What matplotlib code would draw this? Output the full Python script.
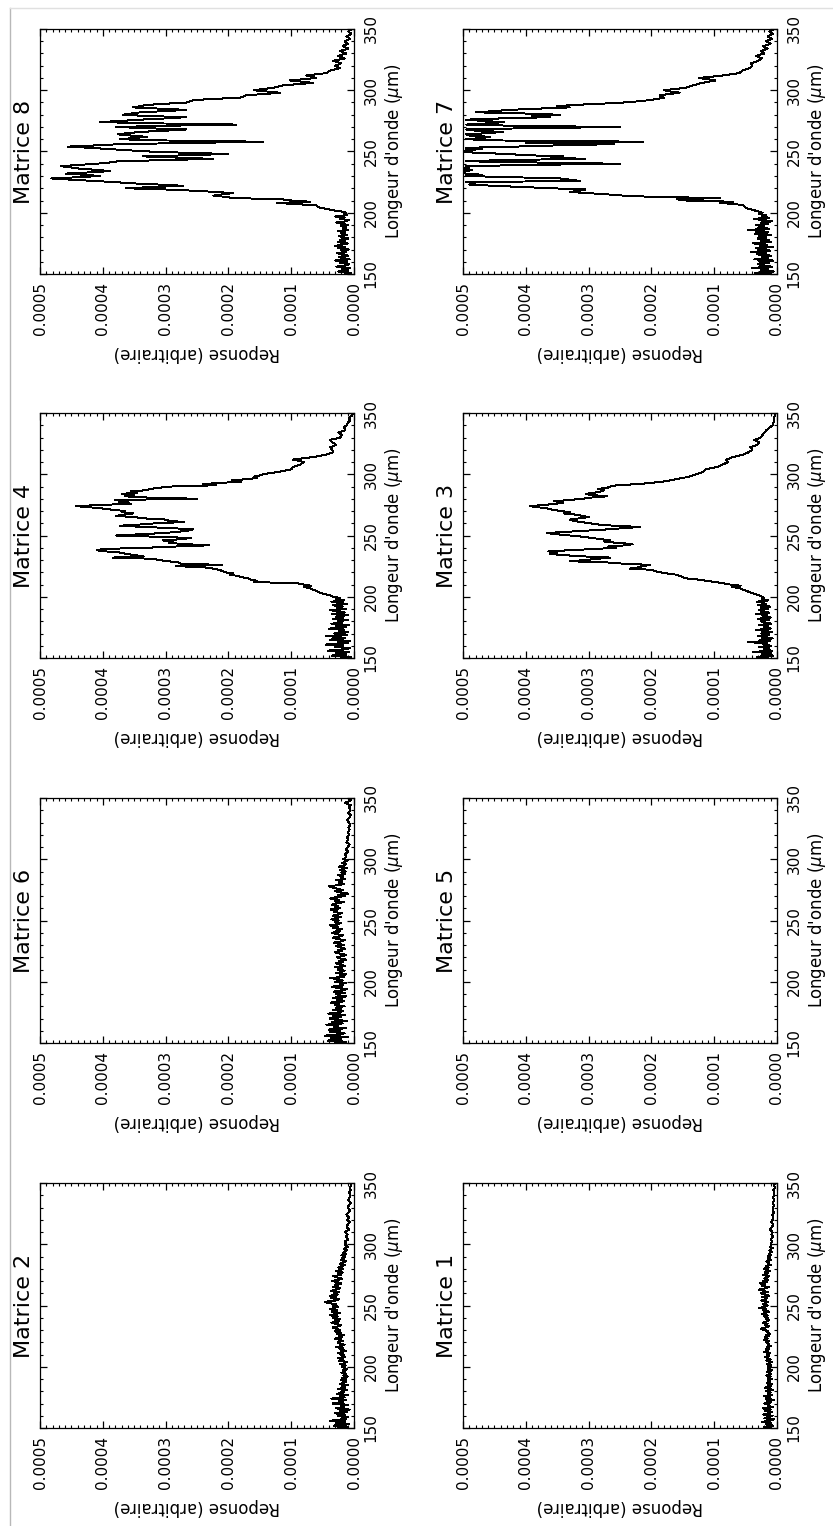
import matplotlib
matplotlib.use('Agg')

import matplotlib.pyplot as plt
from matplotlib.lines import Line2D
import numpy as np

# wavelength grid (microns), shared by all the matrices
wl = [
    150, 151, 152, 153, 154, 155, 156, 157, 158, 159,
    160, 161, 162, 163, 164, 165, 166, 167, 168, 169,
    170, 171, 172, 173, 174, 175, 176, 177, 178, 179,
    180, 181, 182, 183, 184, 185, 186, 187, 188, 189,
    190, 191, 192, 193, 194, 195, 196, 197, 198, 199,
    200, 201, 202, 203, 204, 205, 206, 207, 208, 209,
    210, 211, 212, 213, 214, 215, 216, 217, 218, 219,
    220, 221, 222, 223, 224, 225, 226, 227, 228, 229,
    230, 231, 232, 233, 234, 235, 236, 237, 238, 239,
    240, 241, 242, 243, 244, 245, 246, 247, 248, 249,
    250, 251, 252, 253, 254, 255, 256, 257, 258, 259,
    260, 261, 262, 263, 264, 265, 266, 267, 268, 269,
    270, 271, 272, 273, 274, 275, 276, 277, 278, 279,
    280, 281, 282, 283, 284, 285, 286, 287, 288, 289,
    290, 291, 292, 293, 294, 295, 296, 297, 298, 299,
    300,
    302, 304, 306, 308, 310, 312, 314, 316, 318, 320,
    322, 324, 326, 328, 330, 332, 334, 336, 338, 340,
    342, 344, 346, 348, 350,
]

# responses, in units of 1e-5
m1 = [
    1.2, 2.1, 0.6, 1.8, 0.9, 2.4, 1.1, 0.5, 2.0, 1.3,
    0.7, 2.2, 1.4, 0.8, 1.9, 1.0, 2.3, 0.6, 1.5, 1.2,
    2.0, 0.9, 1.6, 0.5, 1.8, 1.1, 2.1, 0.8, 1.4, 1.0,
    1.7, 0.7, 1.3, 1.9, 0.9, 1.5, 0.8, 1.6, 1.1, 1.4,
    0.8, 1.5, 1.0, 1.7, 0.9, 1.3, 1.6, 0.8, 1.4, 1.1,
    1.5, 0.9, 1.6, 1.2, 0.8, 1.7, 1.0, 1.4, 1.9, 1.2,
    1.6, 1.1, 2.0, 1.4, 1.8, 1.2, 1.6, 1.0, 1.5, 1.3,
    1.8, 1.2, 2.1, 1.5, 1.9, 1.3, 1.7, 1.1, 1.6, 1.4,
    2.0, 2.6, 1.8, 1.3, 1.9, 1.5, 2.2, 1.6, 1.2, 1.8,
    1.4, 2.0, 1.5, 2.4, 1.8, 1.3, 2.2, 1.7, 2.8, 2.0,
    1.5, 2.3, 1.8, 1.4, 2.5, 2.0, 1.6, 2.4, 1.2, 1.9,
    2.6, 1.5, 2.1, 2.9, 1.8, 1.3, 2.4, 1.9, 2.7, 1.6,
    2.2, 1.4, 2.0, 1.7, 1.2, 2.3, 1.5, 1.9, 1.1, 1.6,
    2.1, 1.3, 1.8, 1.0, 1.5, 1.2, 1.7, 1.0, 1.4, 1.1,
    1.5, 0.9, 1.3, 1.1, 0.8, 1.2, 1.0, 0.7, 1.1, 0.9,
    1.0,
    0.8, 1.0, 0.6, 0.9, 0.7, 1.1, 0.8, 0.6, 0.9, 0.7,
    0.6, 0.8, 0.5, 0.7, 0.6, 0.5, 0.7, 0.4, 0.6, 0.5,
    0.4, 0.6, 0.3, 0.5, 0.3,
]

m2 = [
    2.5, 1.0, 3.2, 0.8, 2.8, 1.5, 3.8, 1.2, 2.0, 0.9,
    2.6, 1.4, 3.0, 1.1, 2.3, 0.7, 2.9, 1.6, 2.1, 1.0,
    3.4, 1.8, 2.4, 1.2, 3.6, 1.5, 2.2, 1.0, 2.7, 1.6,
    2.0, 1.1, 2.5, 1.4, 1.9, 1.0, 2.3, 1.5, 1.2, 2.1,
    1.3, 1.9, 1.0, 1.7, 1.2, 2.0, 1.4, 1.8, 1.1, 1.6,
    1.9, 1.3, 2.2, 1.5, 1.1, 2.4, 1.7, 2.6, 1.4, 2.0,
    1.6, 2.5, 1.9, 1.3, 2.2, 1.7, 2.8, 2.0, 1.5, 2.3,
    2.6, 1.8, 2.2, 3.0, 1.9, 2.4, 1.6, 2.7, 2.1, 3.1,
    2.3, 2.8, 3.4, 2.5, 2.0, 2.9, 3.6, 2.4, 3.0, 2.2,
    3.3, 2.6, 3.8, 2.9, 2.3, 3.5, 2.7, 3.9, 3.1, 2.5,
    3.4, 2.8, 4.1, 4.6, 3.0, 2.4, 3.6, 2.9, 3.8, 2.6,
    3.2, 2.3, 3.7, 2.8, 2.2, 3.4, 2.6, 3.1, 2.0, 2.7,
    3.5, 2.4, 1.9, 2.8, 3.3, 2.1, 2.6, 1.8, 2.9, 2.2,
    1.7, 2.5, 2.0, 1.5, 2.3, 1.8, 1.3, 2.1, 1.6, 1.9,
    1.4, 2.0, 1.2, 1.7, 1.5, 1.1, 1.6, 1.3, 1.0, 1.4,
    1.2,
    1.5, 0.9, 1.3, 1.0, 1.4, 0.8, 1.2, 1.0, 0.7, 1.1,
    0.8, 1.2, 0.9, 0.6, 1.0, 0.8, 0.5, 0.9, 0.7, 0.6,
    0.8, 0.5, 0.7, 0.4, 0.6,
]

m3 = [
    1.5, 3.2, 0.6, 2.4, 1.0, 3.8, 0.8, 2.0, 1.3, 2.9,
    0.9, 2.2, 1.6, 4.6, 1.1, 2.7, 0.7, 1.9, 3.0, 1.2,
    2.5, 0.8, 1.7, 3.3, 1.0, 2.1, 1.4, 2.8, 0.9, 1.8,
    2.6, 1.3, 3.1, 1.0, 2.3, 1.6, 3.4, 1.2, 2.0, 2.9,
    1.5, 2.5, 1.1, 3.0, 1.8, 2.2, 3.2, 1.4, 2.4, 2.0,
    2.3, 2.8, 3.4, 4.0, 4.5, 4.9, 5.5, 6.0, 7.1, 5.8,
    7.5, 8.5, 9.8, 11.0, 12.5, 14.5, 15.0, 15.5, 16.0, 17.5,
    18.7, 19.5, 20.0, 23.4, 22.0, 21.5, 20.2, 24.5, 27.0, 33.0,
    30.5, 28.5, 26.6, 31.0, 34.0, 36.2, 35.0, 36.4, 33.0, 29.0,
    25.6, 27.0, 24.0, 23.0, 25.5, 27.5, 26.6, 28.0, 29.5, 30.9,
    33.0, 35.0, 36.7, 33.5, 30.3, 27.0, 24.5, 21.8, 26.0, 28.5,
    29.8, 31.0, 32.5, 33.0, 31.5, 30.0, 30.9, 32.0, 34.0, 33.0,
    34.5, 35.7, 36.5, 38.0, 39.4, 37.0, 35.0, 34.0, 35.5, 33.0,
    31.0, 29.5, 27.0, 29.5, 30.5, 29.0, 28.0, 27.5, 28.5, 27.0,
    26.5, 25.6, 22.0, 20.0, 18.1, 17.0, 16.0, 15.0, 14.0, 13.5,
    12.8,
    11.8, 11.3, 9.5, 8.6, 7.8, 8.1, 7.0, 5.4, 4.5, 3.9,
    4.3, 3.2, 2.8, 3.6, 2.6, 2.3, 2.0, 1.7, 1.2, 0.7,
    0.6, 0.4, 0.5, 0.3, 0.4,
]

m4 = [
    2.0, 0.5, 3.5, 1.2, 2.8, 0.8, 4.2, 1.5, 0.6, 3.0,
    1.8, 4.5, 1.0, 2.6, 0.7, 3.8, 1.4, 2.2, 4.4, 1.1,
    3.2, 0.9, 2.4, 1.6, 4.0, 1.3, 2.9, 0.8, 3.6, 1.9,
    2.5, 1.0, 3.3, 1.7, 2.8, 0.9, 3.5, 1.5, 2.1, 3.9,
    1.2, 2.7, 1.8, 3.4, 1.1, 2.3, 3.6, 1.6, 2.9, 2.2,
    3.3, 3.8, 4.5, 5.2, 5.8, 6.0, 6.6, 7.0, 8.0, 6.9,
    8.1, 9.0, 16.0, 15.5, 16.4, 16.9, 17.8, 18.5, 19.8, 19.2,
    20.6, 21.0, 21.4, 22.5, 23.8, 28.3, 21.0, 27.5, 28.0, 29.6,
    31.0, 32.0, 38.4, 33.5, 35.0, 36.3, 37.0, 39.5, 41.0, 40.0,
    33.0, 28.5, 23.0, 27.0, 29.5, 28.8, 30.5, 27.5, 26.0, 31.5,
    37.9, 34.0, 30.4, 28.0, 26.5, 25.6, 29.0, 33.5, 37.3, 34.0,
    31.5, 27.0, 29.5, 30.0, 33.5, 35.0, 37.9, 36.5, 35.2, 37.0,
    36.5, 38.4, 40.0, 42.0, 44.3, 40.0, 35.5, 37.5, 36.0, 38.0,
    25.0, 33.0, 36.5, 35.0, 37.0, 34.5, 35.5, 33.0, 32.5, 31.0,
    29.0, 22.0, 24.0, 21.0, 18.0, 19.5, 17.0, 15.5, 16.0, 15.0,
    14.5,
    12.0, 10.0, 9.7, 8.5, 8.0, 9.7, 6.5, 4.5, 3.3, 3.5,
    3.8, 2.8, 3.4, 3.8, 2.2, 1.9, 2.5, 1.4, 1.6, 1.2,
    1.0, 0.6, 0.8, 0.3, 0.1,
]

m5 = []  # nothing recorded for this matrix

m6 = [
    3.0, 1.2, 4.2, 2.0, 3.6, 1.0, 4.6, 2.4, 1.5, 3.8,
    2.2, 4.0, 1.3, 3.2, 2.6, 4.4, 1.8, 3.5, 1.1, 2.9,
    3.9, 2.1, 3.3, 1.4, 4.1, 2.5, 1.7, 3.4, 2.0, 2.8,
    1.5, 3.1, 2.3, 3.7, 1.6, 2.7, 1.9, 3.3, 1.2, 2.4,
    2.9, 1.4, 3.2, 2.0, 1.1, 2.6, 3.5, 1.7, 2.2, 1.3,
    3.0, 1.8, 2.5, 3.8, 1.6, 2.3, 1.2, 2.8, 2.0, 1.5,
    2.6, 1.9, 3.1, 1.4, 2.2, 2.9, 1.7, 2.4, 1.3, 2.1,
    2.7, 1.8, 1.2, 2.3, 3.0, 1.9, 2.5, 1.4, 2.0, 2.8,
    1.6, 2.4, 3.2, 2.0, 1.5, 2.7, 3.4, 2.2, 1.8, 2.9,
    3.5, 2.3, 2.8, 1.9, 3.3, 2.5, 3.9, 2.7, 2.0, 3.1,
    2.4, 3.6, 2.9, 2.1, 3.4, 2.6, 1.9, 3.2, 2.7, 3.7,
    2.2, 3.0, 2.5, 3.5, 2.8, 1.6, 3.1, 2.4, 3.8, 2.9,
    1.4, 2.6, 0.9, 2.2, 3.0, 1.8, 2.7, 3.5, 4.0, 2.3,
    1.6, 2.4, 1.9, 2.8, 1.4, 2.1, 1.7, 2.5, 1.5, 2.0,
    1.3, 2.2, 1.8, 1.1, 2.4, 1.6, 1.2, 1.9, 1.4, 1.0,
    1.7,
    1.2, 1.5, 0.9, 1.3, 1.0, 0.7, 1.2, 0.9, 1.1, 0.8,
    1.0, 0.7, 0.9, 0.6, 0.8, 1.1, 0.7, 0.5, 0.9, 0.6,
    0.8, 0.5, 1.4, 0.6, 0.4,
]

m7 = [
    1.0, 3.5, 0.5, 2.6, 1.4, 4.0, 0.8, 2.2, 3.0, 1.2,
    2.8, 0.6, 3.6, 1.5, 2.4, 0.9, 3.2, 1.8, 4.2, 1.1,
    2.0, 3.4, 0.7, 2.7, 1.6, 3.8, 1.0, 2.5, 1.3, 3.1,
    1.8, 2.9, 0.9, 3.5, 1.4, 2.3, 4.6, 1.2, 3.0, 2.0,
    3.3, 1.5, 2.6, 0.8, 2.1, 3.7, 1.3, 2.4, 1.7, 2.9,
    2.3, 3.0, 3.6, 4.4, 5.0, 5.2, 5.4, 6.5, 9.1, 7.0,
    14.5, 16.0, 9.0, 20.0, 24.5, 27.0, 30.0, 33.0, 31.5, 30.5,
    36.0, 40.6, 45.0, 49.0, 48.0, 49.5, 31.4, 33.0, 34.6, 42.0,
    49.5, 47.0, 49.5, 50.5, 49.5, 48.5, 50.0, 49.0, 49.5, 40.0,
    25.0, 38.0, 49.5, 44.0, 30.5, 36.0, 34.0, 40.0, 43.0, 48.0,
    50.5, 49.5, 47.0, 49.5, 41.6, 35.0, 26.0, 40.0, 21.3, 44.0,
    49.5, 47.0, 45.7, 49.0, 49.5, 46.0, 43.6, 48.0, 49.5, 40.0,
    25.0, 42.0, 49.5, 46.0, 43.5, 47.0, 49.5, 44.0, 36.2, 39.0,
    34.6, 40.0, 48.0, 45.0, 42.5, 38.0, 33.0, 35.0, 32.4, 28.0,
    24.4, 22.0, 20.2, 19.0, 18.0, 18.5, 18.7, 17.0, 15.5, 17.0,
    18.0,
    14.5, 13.4, 11.9, 9.8, 12.4, 8.7, 6.0, 5.5, 4.4, 3.9,
    4.2, 3.0, 2.4, 3.4, 2.0, 2.6, 1.5, 2.2, 1.0, 1.8,
    0.8, 1.5, 0.6, 1.2, 0.5,
]

m8 = [
    1.5, 0.4, 2.5, 1.0, 2.0, 0.6, 2.8, 1.3, 0.8, 2.2,
    1.1, 3.0, 0.7, 1.8, 2.4, 0.9, 1.6, 2.7, 1.2, 2.0,
    0.8, 2.5, 1.4, 3.0, 1.9, 1.0, 2.6, 1.5, 2.2, 0.9,
    1.7, 2.4, 1.1, 2.0, 1.4, 2.6, 0.9, 1.8, 1.2, 2.1,
    1.0, 1.9, 2.8, 1.3, 0.8, 2.2, 1.5, 3.0, 1.1, 1.6,
    1.2, 2.0, 3.3, 4.2, 5.4, 5.8, 6.0, 9.0, 12.3, 7.0,
    10.0, 11.5, 19.3, 20.5, 22.4, 21.0, 19.3, 22.0, 25.6, 30.0,
    36.3, 32.0, 27.2, 31.0, 35.2, 38.0, 41.6, 45.0, 48.2, 44.0,
    40.5, 43.0, 45.9, 42.0, 38.9, 41.0, 43.7, 45.0, 46.6, 44.0,
    41.0, 39.0, 37.6, 30.0, 22.4, 28.0, 33.6, 26.0, 20.0, 27.0,
    32.6, 36.0, 38.9, 42.0, 45.6, 41.0, 37.3, 26.0, 14.5, 30.0,
    37.3, 35.0, 33.0, 35.5, 37.6, 36.0, 34.0, 30.0, 26.7, 33.0,
    37.9, 30.0, 18.7, 32.0, 40.5, 37.0, 34.0, 30.0, 26.7, 33.0,
    36.8, 35.5, 34.0, 30.0, 26.7, 31.0, 35.2, 34.0, 33.0, 30.0,
    26.7, 26.0, 25.6, 22.0, 18.2, 17.5, 17.1, 14.0, 11.8, 14.0,
    16.0,
    12.9, 11.3, 6.5, 10.2, 6.0, 7.6, 4.4, 3.8, 2.2, 3.0,
    2.0, 3.3, 1.5, 2.6, 1.2, 2.2, 0.9, 1.8, 1.0, 1.5,
    0.6, 1.2, 0.4, 0.9, 0.3,
]

resp_ticks = [0.0005, 0.0004, 0.0003, 0.0002, 0.0001, 0.0]
resp_labels = ['0.0005', '0.0004', '0.0003', '0.0002', '0.0001', '0.0000']
wl_ticks = [150, 200, 250, 300, 350]
wl_labels = ['150', '200', '250', '300', '350']

# (title, data, column, row) -- page is the landscape plot turned on its side
panels = [
    ('Matrice 8', m8, 0, 0), ('Matrice 7', m7, 1, 0),
    ('Matrice 4', m4, 0, 1), ('Matrice 3', m3, 1, 1),
    ('Matrice 6', m6, 0, 2), ('Matrice 5', m5, 1, 2),
    ('Matrice 2', m2, 0, 3), ('Matrice 1', m1, 1, 3),
]

W, H = 833, 1526
fig = plt.figure(figsize=(W / 100, H / 100), dpi=100, facecolor='white')

# faint scan border
fig.add_artist(Line2D([10 / W, 10 / W], [0, 1 - 8 / H], transform=fig.transFigure,
                      color='0.72', lw=1.0))
fig.add_artist(Line2D([10 / W, 1], [1 - 8 / H, 1 - 8 / H], transform=fig.transFigure,
                      color='0.88', lw=1.0))

col_x = [40, 463]
row_y = [29, 413, 798, 1183]
aw, ah = 314, 245

for title, resp, col, row in panels:
    ax = fig.add_axes([col_x[col] / W, 1 - (row_y[row] + ah) / H, aw / W, ah / H])
    if resp:
        ax.plot(np.array(resp) * 1e-5, wl, color='black', lw=0.7, antialiased=False)
    ax.set_xlim(0.0005, 0.0)
    ax.set_ylim(150, 350)

    ax.set_xticks(resp_ticks)
    ax.set_xticklabels(resp_labels, rotation=90, ha='center', fontsize=11)
    ax.set_xticks([i * 0.00001 for i in range(51)], minor=True)
    ax.set_yticks(wl_ticks)
    ax.set_yticklabels(wl_labels, rotation=90, va='center', fontsize=11)
    ax.set_yticks(list(range(150, 351, 10)), minor=True)

    ax.tick_params(axis='both', which='both', direction='in', color='black',
                   top=True, bottom=True, left=True, right=True,
                   labelleft=False, labelright=True, labelbottom=True, labeltop=False)
    ax.tick_params(axis='both', which='major', length=5, width=0.9)
    ax.tick_params(axis='both', which='minor', length=2.5, width=0.8)
    ax.tick_params(axis='x', which='major', pad=6)
    ax.tick_params(axis='y', which='major', pad=7)

    for s in ax.spines.values():
        s.set_linewidth(0.9)

    ax.set_xlabel('Reponse (arbitraire)', rotation=180, fontsize=12, labelpad=6)
    ax.yaxis.set_label_position('right')
    ax.set_ylabel("Longeur d'onde ($\\mu$m)", rotation=90, fontsize=12, labelpad=3)

    ax.text(-16 / aw, 0.5, title, transform=ax.transAxes, rotation=90,
            ha='center', va='center', fontsize=16)

plt.savefig('out.png', dpi=100, facecolor='white')
